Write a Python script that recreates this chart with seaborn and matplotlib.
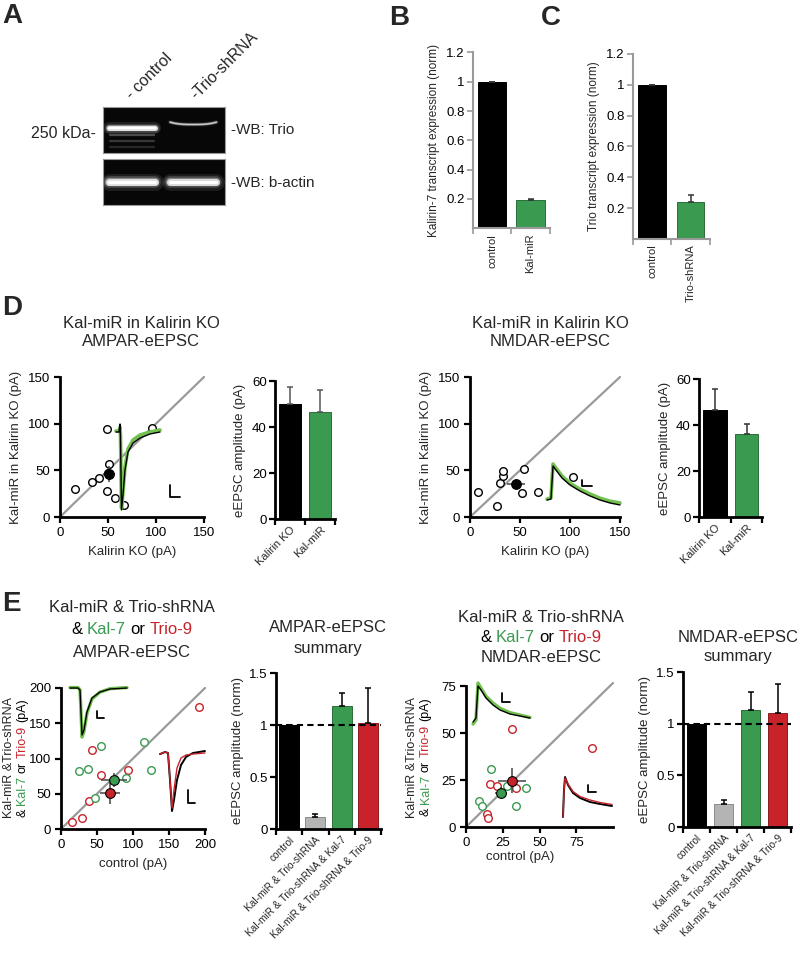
import numpy as np
import pandas as pd
import matplotlib
matplotlib.use("Agg")
import matplotlib.pyplot as plt
import seaborn as sns

sns.set_style("ticks")
plt.rcParams['font.family'] = ['Liberation Sans', 'DejaVu Sans']

GREEN = "#3a9a50"
RED = "#c8232b"
GREY = "#b4b4b4"
TGREEN = "#72c04e"

# ---------------- data ----------------
blot_lanes = ["- control", "-Trio-shRNA"]
trio_band = [1.0, 0.55]
trio_faint = [0.28, 0.2, 0.14]
actin_band = [1.0, 0.95]

b_cats = ["control", "Kal-miR"]
b_vals = [1.0, 0.19]
b_errs = [0.0, 0.013]

c_cats = ["control", "Trio-shRNA"]
c_vals = [1.0, 0.24]
c_errs = [0.0, 0.045]

d_cats = ["Kalirin KO", "Kal-miR"]
d_ampa_bar = [50.0, 46.6]
d_ampa_err = [7.4, 9.4]
d_nmda_bar = [46.6, 36.2]
d_nmda_err = [9.0, 4.2]

d_ampa_x = [16, 33, 41, 49, 51, 50, 49, 57, 67, 96]
d_ampa_y = [30, 37, 42, 94, 57, 47, 28, 20, 13, 95]
d_ampa_mean = [51, 46]
d_ampa_sem = [6, 9]

d_nmda_x = [8, 30, 33, 33, 27, 54, 52, 68, 103]
d_nmda_y = [27, 36, 44, 49, 12, 51, 26, 27, 43]
d_nmda_mean = [46, 35]
d_nmda_sem = [9, 4]

e_ampa_red_x = [192, 43, 55, 93, 39, 15, 29]
e_ampa_red_y = [173, 112, 77, 83, 40, 10, 16]
e_ampa_grn_x = [115, 56, 25, 37, 90, 125, 47]
e_ampa_grn_y = [124, 118, 82, 85, 72, 83, 44]
e_ampa_grn_mean = [74, 69]
e_ampa_grn_sem = [18, 10]
e_ampa_red_mean = [68, 51]
e_ampa_red_sem = [14, 15]

e_nmda_red_x = [31, 86, 16, 21, 34, 14, 15]
e_nmda_red_y = [52, 42, 23, 22, 21, 7, 5]
e_nmda_grn_x = [17, 28, 41, 34, 9, 11]
e_nmda_grn_y = [31, 22, 21, 11, 14, 11]
e_nmda_grn_mean = [23.6, 18.3]
e_nmda_grn_sem = [4, 3]
e_nmda_red_mean = [31.5, 24.6]
e_nmda_red_sem = [9.6, 6.6]

e_cats = ["control", "Kal-miR & Trio-shRNA", "Kal-miR & Trio-shRNA & Kal-7",
          "Kal-miR & Trio-shRNA & Trio-9"]
e_ampa_bar = [1.0, 0.115, 1.18, 1.02]
e_ampa_err = [0.0, 0.025, 0.13, 0.34]
e_nmda_bar = [1.0, 0.22, 1.13, 1.10]
e_nmda_err = [0.0, 0.04, 0.18, 0.28]

# example traces (relative time / relative current)
tr_d_ampa_t = [5.5, 9.6, 11, 11.6, 13, 15, 17.8, 21.9, 28.8, 38.4, 52, 65.8]
tr_d_ampa_k = [83, 83, 91, 79, 5, 20, 45, 63, 72, 77, 81, 83]
tr_d_ampa_g = [84, 84, 88, 80, 7, 22, 48, 66, 75, 80, 83, 85]
tr_d_ampa_bar = ([79.5, 79.5, 93.2], [30, 18, 18])

tr_d_nmda_t = [8.2, 12.9, 15.3, 18.8, 25.9, 35.3, 47, 58.8, 70.6, 82.4, 94.1]
tr_d_nmda_k = [25, 26.7, 81.7, 75, 61.7, 50, 40, 31.7, 25, 20, 16.7]
tr_d_nmda_g = [26.7, 28.3, 85, 78, 65, 53, 43, 35, 28, 23, 20]
tr_d_nmda_bar = ([49.4, 49.4, 61.2], [58.3, 48.3, 48.3])

tr_e_ampa1_t = [7.7, 20, 23.1, 26.2, 29.2, 33.8, 41.5, 53.8, 69.2, 95.4]
tr_e_ampa1_k = [91.2, 91.2, 87.7, 8.8, 17.5, 49.1, 73.7, 84.2, 89.5, 91.2]
tr_e_ampa1_g = [92, 92, 88, 5, 15, 47, 72, 84, 90, 92]
tr_e_ampa1_bar = ([49.2, 49.2, 60], [50.9, 38.6, 38.6])

tr_e_ampa2_t = [9.4, 18.9, 24.5, 28.3, 32.1, 35.8, 41.5, 49.1, 58.5, 71.7, 94.3]
tr_e_ampa2_k = [87, 90, 88.6, 50, 5.7, 21.4, 50, 71.4, 82.9, 88.6, 91.4]
tr_e_ampa2_r = [87, 90, 88.6, 50, 10, 35.7, 67.1, 81.4, 85.7, 87.1, 88.6]
tr_e_ampa2_bar = ([62.3, 62.3, 75.5], [35.7, 17.1, 17.1])

tr_e_nmda1_t = [7.5, 11.9, 14.9, 19.4, 26.9, 37.3, 47.8, 62.7, 77.6, 92.5]
tr_e_nmda1_k = [12.5, 20.8, 87.5, 79.2, 62.5, 47.9, 37.5, 29.2, 25, 20.8]
tr_e_nmda1_g = [8.3, 16.7, 93.8, 83, 66, 52, 41, 32, 27, 22]
tr_e_nmda1_bar = ([50.7, 50.7, 62.7], [72.9, 54.2, 54.2])

tr_e_nmda2_t = [8.3, 10, 11.7, 16.7, 25, 36.7, 53.3, 70, 90]
tr_e_nmda2_k = [6, 60, 86, 70, 54, 44, 36, 32, 28]
tr_e_nmda2_r = [6, 58, 84, 72, 57, 47, 40, 35, 31]
tr_e_nmda2_bar = ([50, 50, 63.3], [70, 56, 56])

# ---------------- figure ----------------
W, H = 800, 972
fig = plt.figure(figsize=(8, 9.72), dpi=100)
TICK = 9.5
LAB = 9.5
TITLE = 12


def px_axes(x0, y0, x1, y1):
    return fig.add_axes([x0 / W, 1 - y1 / H, (x1 - x0) / W, (y1 - y0) / H])


def ftext(x, y, s, **kw):
    return fig.text(x / W, 1 - y / H, s, **kw)


def color_text(xc, yc, parts, size, rotation=0):
    r = fig.canvas.get_renderer()
    probe1 = fig.text(0, 0, "x x", fontsize=size)
    probe2 = fig.text(0, 0, "xx", fontsize=size)
    gap = probe1.get_window_extent(r).width - probe2.get_window_extent(r).width
    probe1.remove(); probe2.remove()
    objs, lens = [], []
    for s, c in parts:
        o = fig.text(0, 0, s, color=c, fontsize=size, rotation=rotation,
                     ha="left", va="center", rotation_mode="anchor")
        bb = o.get_window_extent(r)
        objs.append(o)
        lens.append(bb.width if rotation == 0 else bb.height)
    total = sum(lens) + gap * (len(parts) - 1)
    if rotation == 0:
        pos = xc - total / 2
        for o, L in zip(objs, lens):
            o.set_position((pos / W, 1 - yc / H))
            pos += L + gap
    else:
        pos = yc + total / 2
        for o, L in zip(objs, lens):
            o.set_position((xc / W, 1 - pos / H))
            pos -= L + gap


# ---- panel letters ----
for letter, (lx, ly) in {"A": (2, 16), "B": (389, 18), "C": (541, 18),
                         "D": (2, 308), "E": (2, 604)}.items():
    ftext(lx, ly, letter, fontsize=20, fontweight="bold", va="center", ha="left")

# ---- panel A: western blot ----
def blot(ax, intens, ypos, lw, curve=None):
    ax.set_facecolor("#070707")
    ax.set_xlim(0, 2)
    ax.set_ylim(1, 0)
    ax.set_xticks([]); ax.set_yticks([])
    for s in ax.spines.values():
        s.set_color("#9a9a9a"); s.set_linewidth(0.8)
    for i, v in enumerate(intens):
        xs = np.linspace(i + 0.1, i + 0.86, 12)
        ys = np.full_like(xs, ypos[i])
        if curve is not None:
            ys = ys - curve[i] * (np.abs(xs - (i + 0.48)) / 0.38) ** 3
        for k, (w, a) in enumerate([(lw[i] * 2.4, 0.10), (lw[i] * 1.7, 0.18),
                                    (lw[i] * 1.2, 0.35), (lw[i], 0.75)]):
            ax.plot(xs, ys, color="white", lw=w, alpha=a * v,
                    solid_capstyle="round")
        ax.plot(xs, ys, color="white", lw=lw[i] * 0.45, alpha=min(1, v * 1.1),
                solid_capstyle="round")


ax_a1 = px_axes(103, 107, 225, 153)
blot(ax_a1, trio_band, [0.46, 0.38], [3.6, 1.4], curve=[0.0, 0.05])
for j, v in enumerate(trio_faint):
    ax_a1.plot([0.12, 0.84], [0.61 + 0.13 * j] * 2, color="white", lw=1.6,
               alpha=v, solid_capstyle="round")
ax_a2 = px_axes(103, 159, 225, 205)
blot(ax_a2, actin_band, [0.5, 0.5], [5.0, 5.0])

ftext(134, 102, blot_lanes[0], rotation=45, fontsize=11.5, ha="left",
      va="bottom", rotation_mode="anchor")
ftext(198, 102, blot_lanes[1], rotation=45, fontsize=11.5, ha="left",
      va="bottom", rotation_mode="anchor")
ftext(96, 133, "250 kDa-", fontsize=11.5, ha="right", va="center")
ftext(231, 130, "-WB: Trio", fontsize=11, ha="left", va="center")
ftext(231, 183, "-WB: b-actin", fontsize=11, ha="left", va="center")


# ---- bar panels ----
def bar_panel(ax, cats, vals, errs, colors, edges, ylim, yticks, ytl, ylabel,
              spine="k", spw=2.0, lab_rot=45, lab_size=8, ecolor="k",
              width=0.74, ylsize=LAB):
    df = pd.DataFrame({"cond": cats, "val": vals})
    sns.barplot(data=df, x="cond", y="val", hue="cond", palette=colors,
                legend=False, width=width, errorbar=None, ax=ax,
                linewidth=0.7, saturation=1)
    for p, ec in zip(ax.patches, edges):
        p.set_edgecolor(ec)
    ax.errorbar(np.arange(len(cats)), vals,
                yerr=[np.zeros(len(vals)), errs], fmt="none", ecolor=ecolor,
                elinewidth=1.1, capsize=2.5, capthick=1.1, zorder=3)
    ax.set_xlim(-0.5, len(cats) - 0.5)
    ax.set_ylim(*ylim)
    ax.set_yticks(yticks)
    ax.set_yticklabels(ytl)
    for s in ["top", "right"]:
        ax.spines[s].set_visible(False)
    for s in ["left", "bottom"]:
        ax.spines[s].set_color(spine)
        ax.spines[s].set_linewidth(spw)
    ax.tick_params(axis="y", direction="out", length=4, width=spw * 0.8,
                   colors=spine, labelcolor="k", labelsize=TICK, pad=2)
    ax.set_xticks(np.arange(-0.5, len(cats), 1), minor=True)
    ax.tick_params(axis="x", which="minor", direction="out", length=4,
                   width=spw * 0.8, color=spine)
    ax.tick_params(axis="x", which="major", length=0, pad=4)
    if lab_rot == 90:
        ax.set_xticklabels(cats, rotation=90, fontsize=lab_size, ha="center",
                           va="top")
    else:
        ax.set_xticklabels(cats, rotation=lab_rot, fontsize=lab_size, ha="right",
                           va="top", rotation_mode="anchor")
    ax.set_xlabel("")
    ax.set_ylabel(ylabel, fontsize=ylsize, labelpad=4)
    ax.set_facecolor("none")


ax_b = px_axes(472.75, 52.4, 549.75, 228.3)
bar_panel(ax_b, b_cats, b_vals, b_errs, ["black", GREEN], ["black", "#2a6e3a"],
          (0, 1.2), [0.2, 0.4, 0.6, 0.8, 1.0, 1.2],
          ["0.2", "0.4", "0.6", "0.8", "1", "1.2"],
          "Kalirin-7 transcript expression (norm)", spine="#9a9a9a", spw=1.5,
          lab_rot=90, lab_size=8, ecolor="#333333", width=0.75, ylsize=8.5)

ax_c = px_axes(632.75, 54, 709.75, 239)
bar_panel(ax_c, c_cats, c_vals, c_errs, ["black", GREEN], ["black", "#2a6e3a"],
          (0, 1.2), [0.2, 0.4, 0.6, 0.8, 1.0, 1.2],
          ["0.2", "0.4", "0.6", "0.8", "1", "1.2"],
          "Trio transcript expression (norm)", spine="#9a9a9a", spw=1.5,
          lab_rot=90, lab_size=8, ecolor="#333333", width=0.72, ylsize=8.5)


# ---- scatter panels ----
def scatter_frame(ax, lim, ticks, xlabel, xlim=None, line_end=None):
    ax.set_xlim(0, xlim if xlim is not None else lim)
    ax.set_ylim(0, lim)
    ax.set_xticks(ticks)
    ax.set_yticks(ticks)
    for s in ["top", "right"]:
        ax.spines[s].set_visible(False)
    for s in ["left", "bottom"]:
        ax.spines[s].set_linewidth(2)
        ax.spines[s].set_color("k")
    ax.tick_params(direction="out", length=4, width=1.6, labelsize=TICK, pad=3,
                   colors="k")
    ax.set_xlabel(xlabel, fontsize=LAB, labelpad=5)
    le = line_end if line_end is not None else (lim, lim)
    ax.plot([0, le[0]], [0, le[1]], color="#9a9a9a", lw=1.6, zorder=1,
            clip_on=False)
    ax.set_facecolor("none")


def open_pts(ax, xs, ys, col):
    sns.scatterplot(x=xs, y=ys, ax=ax, color="white", edgecolor=col, s=30,
                    linewidth=1.0, zorder=3, clip_on=False)


def mean_pt(ax, m, e, col):
    ax.errorbar(m[0], m[1], xerr=e[0], yerr=e[1], fmt="o", color=col, mec="k",
                mew=0.8, ms=7, ecolor="#444444", elinewidth=1.1, capsize=0,
                zorder=4, clip_on=False)


def trace_inset(box, t, series, sbar):
    ax = px_axes(*box)
    ax.set_xlim(0, 100)
    ax.set_ylim(0, 100)
    ax.axis("off")
    for ys, col, lw in series:
        ax.plot(t, ys, color=col, lw=lw, solid_joinstyle="round")
    ax.plot(sbar[0], sbar[1], color="k", lw=1.3)
    return ax


# D left
ax_dl = px_axes(60, 377, 204, 517)
scatter_frame(ax_dl, 150, [0, 50, 100, 150], "Kalirin KO (pA)")
open_pts(ax_dl, d_ampa_x, d_ampa_y, "k")
mean_pt(ax_dl, d_ampa_mean, d_ampa_sem, "k")
ax_dl.set_ylabel("Kal-miR in Kalirin KO (pA)", fontsize=LAB, labelpad=4)
trace_inset((112, 415, 185, 515), tr_d_ampa_t,
            [(tr_d_ampa_g, TGREEN, 2.6), (tr_d_ampa_k, "k", 1.0)], tr_d_ampa_bar)

ftext(141, 323, "Kal-miR in Kalirin KO", fontsize=TITLE, ha="center", va="center")
ftext(141, 341, "AMPAR-eEPSC", fontsize=TITLE, ha="center", va="center")

ax_dlb = px_axes(275, 381, 335, 519)
bar_panel(ax_dlb, d_cats, d_ampa_bar, d_ampa_err, ["black", GREEN],
          ["black", "#2a6e3a"], (0, 60), [0, 20, 40, 60], ["0", "20", "40", "60"],
          "eEPSC amplitude (pA)", ecolor="#555555")

# D right
ax_dr = px_axes(470, 377, 620, 517)
scatter_frame(ax_dr, 150, [0, 50, 100, 150], "Kalirin KO (pA)")
open_pts(ax_dr, d_nmda_x, d_nmda_y, "k")
mean_pt(ax_dr, d_nmda_mean, d_nmda_sem, "k")
ax_dr.set_ylabel("Kal-miR in Kalirin KO (pA)", fontsize=LAB, labelpad=4)
trace_inset((540, 455, 625, 515), tr_d_nmda_t,
            [(tr_d_nmda_g, TGREEN, 2.6), (tr_d_nmda_k, "k", 1.0)], tr_d_nmda_bar)

ftext(550, 323, "Kal-miR in Kalirin KO", fontsize=TITLE, ha="center", va="center")
ftext(550, 341, "NMDAR-eEPSC", fontsize=TITLE, ha="center", va="center")

ax_drb = px_axes(699.25, 379, 762.25, 517)
bar_panel(ax_drb, d_cats, d_nmda_bar, d_nmda_err, ["black", GREEN],
          ["black", "#2a6e3a"], (0, 60), [0, 20, 40, 60], ["0", "20", "40", "60"],
          "eEPSC amplitude (pA)", ecolor="#333333")

# E left
ax_el = px_axes(61, 688, 205, 829)
scatter_frame(ax_el, 200, [0, 50, 100, 150, 200], "control (pA)")
open_pts(ax_el, e_ampa_red_x, e_ampa_red_y, RED)
open_pts(ax_el, e_ampa_grn_x, e_ampa_grn_y, GREEN)
mean_pt(ax_el, e_ampa_grn_mean, e_ampa_grn_sem, GREEN)
mean_pt(ax_el, e_ampa_red_mean, e_ampa_red_sem, RED)
trace_inset((65, 683, 130, 740), tr_e_ampa1_t,
            [(tr_e_ampa1_g, TGREEN, 2.4), (tr_e_ampa1_k, "k", 1.0)], tr_e_ampa1_bar)
trace_inset((155, 745, 208, 815), tr_e_ampa2_t,
            [(tr_e_ampa2_k, "k", 1.4), (tr_e_ampa2_r, RED, 1.0)], tr_e_ampa2_bar)

ftext(132, 607, "Kal-miR & Trio-shRNA", fontsize=TITLE, ha="center", va="center")
color_text(132, 630, [("&", "k"), ("Kal-7", GREEN), ("or", "k"), ("Trio-9", RED)],
           TITLE)
ftext(132, 652, "AMPAR-eEPSC", fontsize=TITLE, ha="center", va="center")

ftext(9, 758, "Kal-miR &Trio-shRNA", fontsize=9, rotation=90, ha="center",
      va="center")
color_text(22.5, 758, [("&", "k"), ("Kal-7", GREEN), ("or", "k"), ("Trio-9", RED),
                       ("(pA)", "k")], 9, rotation=90)

ax_elb = px_axes(276, 673, 381, 829)
bar_panel(ax_elb, e_cats, e_ampa_bar, e_ampa_err, ["black", GREY, GREEN, RED],
          ["black", "#8a8a8a", "#2a6e3a", "#8e1a1f"], (0, 1.5),
          [0, 0.5, 1.0, 1.5], ["0", "0.5", "1", "1.5"], "eEPSC amplitude (norm)",
          ecolor="k", lab_size=7.3, width=0.76)
ax_elb.axhline(1.0, color="k", lw=1.5, ls=(0, (3, 2)), zorder=4)
ftext(328, 628, "AMPAR-eEPSC", fontsize=TITLE, ha="center", va="center")
ftext(328, 648, "summary", fontsize=TITLE, ha="center", va="center")

# E right (x axis drawn to 100, ticks to 75)
ax_er = px_axes(466, 686, 613, 827)
scatter_frame(ax_er, 75, [0, 25, 50, 75], "control (pA)", xlim=100,
              line_end=(100, 76.6))
ax_er.xaxis.set_label_coords(0.37, -0.17)
open_pts(ax_er, e_nmda_red_x, e_nmda_red_y, RED)
open_pts(ax_er, e_nmda_grn_x, e_nmda_grn_y, GREEN)
mean_pt(ax_er, e_nmda_grn_mean, e_nmda_grn_sem, GREEN)
mean_pt(ax_er, e_nmda_red_mean, e_nmda_red_sem, RED)
trace_inset((468, 680, 535, 728), tr_e_nmda1_t,
            [(tr_e_nmda1_g, TGREEN, 2.4), (tr_e_nmda1_k, "k", 1.0)], tr_e_nmda1_bar)
trace_inset((558, 770, 618, 820), tr_e_nmda2_t,
            [(tr_e_nmda2_k, "k", 1.4), (tr_e_nmda2_r, RED, 1.0)], tr_e_nmda2_bar)

ftext(541, 617, "Kal-miR & Trio-shRNA", fontsize=TITLE, ha="center", va="center")
color_text(541, 638, [("&", "k"), ("Kal-7", GREEN), ("or", "k"), ("Trio-9", RED)],
           TITLE)
ftext(541, 658, "NMDAR-eEPSC", fontsize=TITLE, ha="center", va="center")

ftext(412, 757, "Kal-miR &Trio-shRNA", fontsize=9, rotation=90, ha="center",
      va="center")
color_text(425.5, 757, [("&", "k"), ("Kal-7", GREEN), ("or", "k"), ("Trio-9", RED),
                        ("(pA)", "k")], 9, rotation=90)

ax_erb = px_axes(683, 672, 791, 827)
bar_panel(ax_erb, e_cats, e_nmda_bar, e_nmda_err, ["black", GREY, GREEN, RED],
          ["black", "#8a8a8a", "#2a6e3a", "#8e1a1f"], (0, 1.5),
          [0, 0.5, 1.0, 1.5], ["0", "0.5", "1", "1.5"], "eEPSC amplitude (norm)",
          ecolor="k", lab_size=7.3, width=0.72)
ax_erb.axhline(1.0, color="k", lw=1.5, ls=(0, (3, 2)), zorder=4)
ftext(738, 637, "NMDAR-eEPSC", fontsize=TITLE, ha="center", va="center")
ftext(738, 657, "summary", fontsize=TITLE, ha="center", va="center")

fig.savefig("out.png", dpi=100)
